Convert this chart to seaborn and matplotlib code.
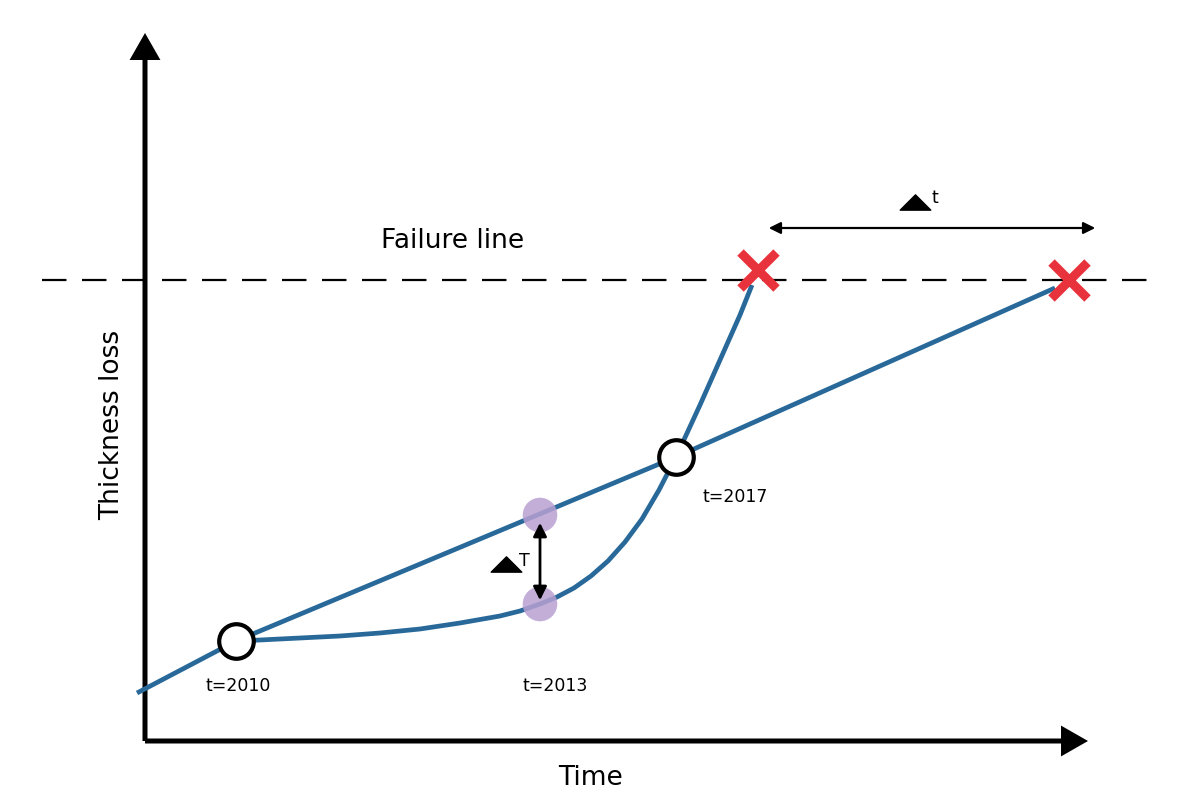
import matplotlib
matplotlib.use("Agg")
import matplotlib.pyplot as plt
import seaborn as sns
import numpy as np
from matplotlib.patches import FancyArrowPatch
from matplotlib.path import Path

# schematic units: origin at the axis corner, x = time, y = thickness loss
linear_x = [-8, 91, 531, 910]
linear_y = [48, 100, 284, 453]

curve_x = [91, 115, 155, 195, 235, 275, 315, 355, 375, 395, 412, 429, 446, 463,
           480, 497, 514, 531, 555, 575, 595, 607]
curve_y = [100, 101, 103, 105, 108, 112, 118, 125, 130, 137, 144, 153, 165, 180,
           199, 222, 251, 284, 336, 381, 426, 456]

inspect_x = [91, 531]
inspect_y = [100, 284]
inspect_labels = ["t=2010", "t=2017"]

delta_x = [395, 395]
delta_y = [226, 137]
delta_label = "t=2013"

failure_x = [613, 924]
failure_y = [471, 461]
failure_level = 461

blue = "#28699a"
red = "#e8333c"
purple = "#b9a0d2"

sns.set_theme(style="white")
plt.rcParams["font.family"] = ["DejaVu Sans"]
plt.rcParams["text.color"] = "black"

fig = plt.figure(figsize=(12.02, 8.08), dpi=100)
ax = fig.add_axes([0, 0, 1, 1])
ax.set_xlim(-145, 1057)
ax.set_ylim(-67, 741)
ax.axis("off")

# axes with arrow heads
for end in [(0, 708), (943, 0)]:
    ax.add_patch(FancyArrowPatch((0, 0), end, arrowstyle="-|>,head_length=1.4,head_width=0.8",
                                 mutation_scale=10, lw=3.6, color="black",
                                 shrinkA=0, shrinkB=0, capstyle="butt", joinstyle="miter"))

# failure line
ax.axhline(failure_level, xmin=42 / 1202, xmax=1155 / 1202, color="black", lw=1.6,
           dashes=(11, 7))
ax.text(308, 500, "Failure line", fontsize=19, ha="center", va="center")

# degradation lines
sns.lineplot(x=linear_x, y=linear_y, ax=ax, color=blue, lw=3.4, sort=False,
             solid_capstyle="butt")
sns.lineplot(x=curve_x, y=curve_y, ax=ax, color=blue, lw=3.4, sort=False,
             solid_capstyle="butt", solid_joinstyle="round")

# delta T between the two curves
sns.scatterplot(x=delta_x, y=delta_y, ax=ax, color=purple, s=620, edgecolor="none",
                alpha=0.85, zorder=3)
ax.add_patch(FancyArrowPatch((delta_x[0], delta_y[0] - 5), (delta_x[1], delta_y[1] + 1),
                             arrowstyle="<|-|>,head_length=0.8,head_width=0.4",
                             mutation_scale=10, lw=2, color="black", zorder=4))

# inspection points
sns.scatterplot(x=inspect_x, y=inspect_y, ax=ax, color="white", s=620,
                edgecolor="black", linewidth=3, zorder=5)

# failure points
ax.plot(failure_x, failure_y, ls="none", marker="x", ms=26, mew=6.5, color=red,
        zorder=6)

# delta t between failures
ax.add_patch(FancyArrowPatch((failure_x[0] + 8, 513), (failure_x[1] + 29, 513),
                             arrowstyle="<|-|>,head_length=0.7,head_width=0.35",
                             mutation_scale=10, lw=1.6, color="black"))

tri = Path([(-1, -0.5), (1, -0.5), (0, 0.5), (-1, -0.5)],
           [Path.MOVETO, Path.LINETO, Path.LINETO, Path.CLOSEPOLY])
ax.plot([770, 361], [539, 177], ls="none", marker=tri, ms=22, color="black")
ax.text(786, 543, "t", fontsize=12.5, ha="left", va="center")
ax.text(374, 180, "T", fontsize=12.5, ha="left", va="center")

# labels
for x, y, lab in zip(inspect_x, inspect_y, inspect_labels):
    if lab == "t=2010":
        ax.text(x + 2, 55, lab, fontsize=12.5, ha="center", va="center")
    else:
        ax.text(x + 59, 244, lab, fontsize=12.5, ha="center", va="center")
ax.text(delta_x[0] + 15, 55, delta_label, fontsize=12.5, ha="center", va="center")

ax.text(445, -37, "Time", fontsize=19, ha="center", va="center")
ax.text(-33, 316, "Thickness loss", fontsize=19, ha="center", va="center", rotation=90)

fig.savefig("out.png", dpi=100)
